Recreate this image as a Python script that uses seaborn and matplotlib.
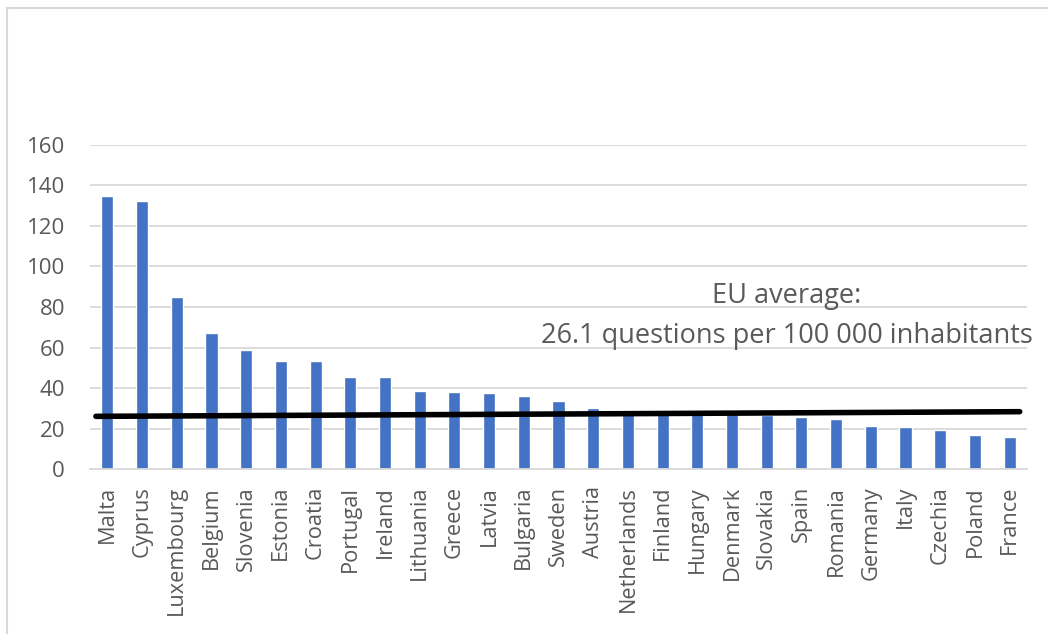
import matplotlib
matplotlib.use("Agg")
import matplotlib.pyplot as plt
from matplotlib.lines import Line2D
import seaborn as sns
import pandas as pd

# Parliamentary questions per 100 000 inhabitants, by member state
countries = ["Malta", "Cyprus", "Luxembourg", "Belgium", "Slovenia", "Estonia",
             "Croatia", "Portugal", "Ireland", "Lithuania", "Greece", "Latvia",
             "Bulgaria", "Sweden", "Austria", "Netherlands", "Finland", "Hungary",
             "Denmark", "Slovakia", "Spain", "Romania", "Germany", "Italy",
             "Czechia", "Poland", "France"]
values = [134.5, 132.1, 85.1, 67.0, 58.8, 53.5, 53.2, 45.4, 45.4, 38.8, 38.0,
          37.4, 36.2, 33.9, 30.3, 28.0, 27.6, 27.5, 27.2, 27.0, 26.0, 24.9,
          21.5, 20.8, 19.5, 16.8, 16.0]

# EU average reference line (drawn with a slight rise to the right)
eu_avg_start = 26.1
eu_avg_end = 28.4
y_ticks = [0, 20, 40, 60, 80, 100, 120, 140, 160]

df = pd.DataFrame({"country": countries, "value": values})

sns.set_theme(style="white")
plt.rcParams["font.family"] = ["Open Sans", "DejaVu Sans"]

W, H = 1048, 634
fig = plt.figure(figsize=(W / 100, H / 100), dpi=100)
ax = fig.add_axes([90 / W, 1 - 469.3 / H, (1027 - 90) / W, (469.3 - 144.7) / H])

text_color = "#595959"
grid_color = "#d9d9d9"

sns.barplot(data=df, x="country", y="value", color="#4472c4", saturation=1,
            width=0.35, ax=ax, zorder=2)

ax.set_xlim(-0.5, len(countries) - 0.5)
ax.set_ylim(0, 160)
ax.set_yticks(y_ticks)
ax.yaxis.grid(True, color=grid_color, linewidth=1.3, zorder=0)
ax.set_axisbelow(True)
for s in ["top", "right", "left"]:
    ax.spines[s].set_visible(False)
ax.spines["bottom"].set_color(grid_color)
ax.spines["bottom"].set_linewidth(1.3)
ax.tick_params(axis="both", length=0, colors=text_color)
ax.tick_params(axis="y", pad=18, labelsize=16)
ax.tick_params(axis="x", pad=12, labelsize=15.7)
ax.set_xticks(range(len(countries)))
ax.set_xticklabels(countries, rotation=90, color=text_color)
ax.set_xlabel("")
ax.set_ylabel("")

# EU average line
ax.plot([-0.33, len(countries) - 0.71], [eu_avg_start, eu_avg_end],
        color="black", linewidth=4, solid_capstyle="round", zorder=3)

ax.text(19.57, 81.8, "EU average:", ha="center", va="baseline",
        fontsize=19.5, color=text_color)
ax.text(19.57, 62.1, f"{eu_avg_start} questions per 100 000 inhabitants",
        ha="center", va="baseline", fontsize=19.5, color=text_color)

# Light frame along the top and left edges
fig.add_artist(Line2D([6.5 / W, 6.5 / W], [0, 1 - 7.5 / H], transform=fig.transFigure,
                      color="#d9d9d9", linewidth=1.5))
fig.add_artist(Line2D([6.5 / W, 1], [1 - 7.5 / H, 1 - 7.5 / H], transform=fig.transFigure,
                      color="#d9d9d9", linewidth=1.5))

fig.savefig("out.png", dpi=100)
